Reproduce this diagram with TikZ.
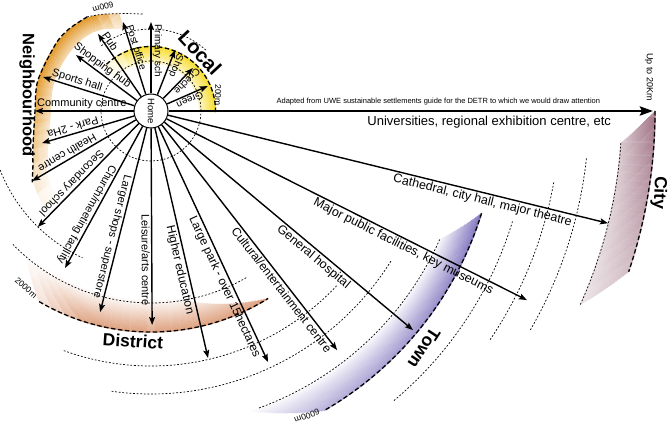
\documentclass[tikz,border=0pt]{standalone}
\usepackage{fontspec}
\setmainfont{Liberation Sans}
\usetikzlibrary{arrows.meta,calc}
\definecolor{locc}{RGB}{247,220,40}
\definecolor{nbc}{RGB}{226,152,40}
\definecolor{dsc}{RGB}{222,160,126}
\definecolor{twc}{RGB}{128,116,190}
\definecolor{ctc}{RGB}{160,115,132}
% concentric band around (H): #1 r_out, #2 strips, #3/#4 start angle outer/inner, #5/#6 end angle outer/inner, #7 colour, #8 segments, #9 colour strength expr (\bT radial 0..1, \bU along 0..1)
\newcommand\cband[9]{%
  \foreach \kk in {0,...,#2}{%
    \pgfmathsetmacro\bT{\kk/#2}%
    \pgfmathsetmacro\bR{#1-\kk}%
    \pgfmathsetmacro\bAs{(#3)+\bT*((#4)-(#3))}%
    \pgfmathsetmacro\bAe{(#5)+\bT*((#6)-(#5))}%
    \foreach \jj in {1,...,#8}{%
      \pgfmathsetmacro\bU{(\jj-0.5)/#8}%
      \pgfmathsetmacro\bA{\bAs+(\jj-1)*(\bAe-\bAs)/#8}%
      \pgfmathsetmacro\bB{\bAs+\jj*(\bAe-\bAs)/#8}%
      \pgfmathtruncatemacro\bC{max(0,min(100,#9))}%
      \draw[#7!\bC!white,line width=1.4pt] ($(H)+(\bA:\bR)$) arc[start angle=\bA,end angle=\bB,radius=\bR];
    }
  }
}
\begin{document}
\begin{tikzpicture}[x=1pt,y=1pt,
  lab/.style={font=\fontsize{11}{13}\selectfont, inner sep=1.3pt},
  loclab/.style={font=\fontsize{10}{12}\selectfont, inner sep=1.2pt},
  mlab/.style={font=\fontsize{12}{14}\selectfont, inner sep=1.5pt},
  blab/.style={font=\fontsize{12.5}{15}\selectfont, inner sep=1.5pt},
  spoke/.style={line width=1.4pt, -{Stealth[length=8pt,width=6pt,inset=1.5pt]}},
  bigspoke/.style={line width=2.8pt, -{Stealth[length=13pt,width=9pt,inset=2pt]}},
  ring/.style={line width=0.7pt, dash pattern=on 1.8pt off 1.8pt},
  edgeline/.style={line width=1.3pt, dash pattern=on 4.5pt off 2.5pt},
  biglab/.style={font=\bfseries\fontsize{17.5}{20}\selectfont, inner sep=0pt},
  dist/.style={font=\fontsize{8.5}{10}\selectfont, inner sep=0pt}]
\useasboundingbox (0,0) rectangle (672,426);
\coordinate (H) at (151,315);

% ---------- coloured bands ----------
\cband{64.5}{16}{-1}{-1}{136}{136}{locc}{14}{100*(1-0.75*\bT)*min(1,(1-\bU)/0.22)}
\cband{221}{31}{239.6}{229}{302}{278}{dsc}{16}{100*(1-0.95*\bT)*min(1,0.2+\bU/0.3)}
\cband{346}{30}{-17.2}{-24}{-60}{-71.7}{twc}{14}{100*(1-0.95*\bT)*(1-0.45*\bU)}
\cband{504}{33}{0}{-3.9}{-18.6}{-24.3}{ctc}{10}{100*(1-0.6*\bT)*(1-0.55*\bU)}
\foreach \aa/\ab/\ra/\rb/\ff in {108/114/102.7/106.5/0.45, 114/120/106.5/111/0.8,
   120/126/111/114/1, 126/132/114/115.5/1, 132/138/115.5/116.2/1,
   138/144/116.2/116.5/1, 144/150/116.5/116.7/1, 150/156/116.7/117/1,
   156/162/117/117.2/1, 162/168/117.2/117.1/0.97, 168/174/117.1/116.5/0.92,
   174/180/116.5/116.2/0.85, 180/186/116.2/117.8/0.75, 186/192/117.8/120.8/0.65,
   192/198/120.8/124.3/0.55, 198/204/124.3/129.5/0.45, 204/210/129.5/137/0.35,
   210/216/137/141/0.22, 216/222/141/143/0.1}{
  \foreach \kk in {0,...,15}{
    \pgfmathtruncatemacro\bC{\ff*100*(1-0.04*\kk)}
    \fill[nbc!\bC!white] ($(H)+(\aa:\ra-\kk)$) -- ($(H)+(\ab+0.4:\rb-\kk)$)
       -- ($(H)+(\ab+0.4:\rb-\kk-1.3)$) -- ($(H)+(\aa:\ra-\kk-1.3)$) -- cycle;
  }
}

% ---------- distance rings ----------
\begin{scope}[shift={(H)}]
  \draw[ring] (0,0) circle[radius=50];
  \draw[ring] (48:82) arc[start angle=48,end angle=128,radius=82];
  \draw[ring] (195:162) arc[start angle=195,end angle=245,radius=162];
  \draw[ring] (224:192) arc[start angle=224,end angle=300,radius=192];
  \draw[ring] (250:255) arc[start angle=250,end angle=317,radius=255];
  \draw[ring] (262:283) arc[start angle=262,end angle=328,radius=283];
  \draw[ring] (290:316) arc[start angle=290,end angle=336,radius=316];
  \draw[ring] (310:378) arc[start angle=310,end angle=343,radius=378];
  \draw[ring] (326:409) arc[start angle=326,end angle=350,radius=409];
  \draw[ring] (330:438) arc[start angle=330,end angle=354,radius=438];
  \draw[ring] (-3.9:471) arc[start angle=-3.9,end angle=-24.3,radius=471];
  \draw[ring] plot[smooth] coordinates {(95:97.3) (103:100) (110:103.5) (117:108.5) (124:113.7)};
  \draw[edgeline] plot[smooth] coordinates {(124:113.7) (135:116) (145:116.5) (165:117.2) (180:116) (190:119) (198:124.3) (205:130.3) (211:138.6)};
  \draw[edgeline] (-1:64.5) arc[start angle=-1,end angle=134,radius=64.5];
  \draw[edgeline] (239.6:221) arc[start angle=239.6,end angle=302,radius=221];
  \draw[edgeline] (-17.2:346) arc[start angle=-17.2,end angle=-60,radius=346];
  \draw[edgeline] (0:504) arc[start angle=0,end angle=-18.6,radius=504];
\end{scope}

% ---------- home ----------
\node[circle, draw, line width=1pt, fill=white, minimum size=34pt, inner sep=0pt,
      rotate=-90, font=\fontsize{9.5}{11}\selectfont] (home) at (H) {Home};

% ---------- spoke end points ----------
\coordinate (tGreen) at ($(H)+(23.7:62)$);
\coordinate (tCreche) at ($(H)+(45.7:60)$);
\coordinate (tShop) at ($(H)+(68.5:65.6)$);
\coordinate (tPrim) at ($(H)+(90:89)$);
\coordinate (tPost) at ($(H)+(107.5:93.3)$);
\coordinate (tPub) at ($(H)+(124.5:93.5)$);
\coordinate (tHub) at ($(H)+(143.3:93.6)$);
\coordinate (tSport) at ($(H)+(162.5:113.2)$);
\coordinate (tComm) at ($(H)+(180:116)$);
\coordinate (tPark) at ($(H)+(196.4:113.6)$);
\coordinate (tHealth) at ($(H)+(210.5:138)$);
\coordinate (tSec) at ($(H)+(225.7:162)$);
\coordinate (tChurch) at ($(H)+(241.3:179)$);
\coordinate (tShops) at ($(H)+(255.8:207.4)$);
\coordinate (tLeis) at ($(H)+(270.3:214)$);
\coordinate (tHigh) at ($(H)+(283:253.5)$);
\coordinate (tLpark) at ($(H)+(295:277)$);
\coordinate (tCult) at ($(H)+(307.9:303)$);
\coordinate (tHosp) at ($(H)+(320.1:341.5)$);
\coordinate (tMus) at ($(H)+(333.3:420.8)$);
\coordinate (tCath) at ($(H)+(346.2:470.6)$);
\coordinate (tUni) at ($(H)+(0:502)$);

% ---------- spokes and labels ----------
\draw[spoke] (home) -- (tGreen) node[loclab, pos=.51, rotate=203.7, anchor=south] {Green};
\draw[spoke] (home) -- (tCreche) node[loclab, pos=.68, rotate=225.7, anchor=south] {Creche};
\draw[spoke] (home) -- (tShop) node[loclab, pos=.70, rotate=248.5, anchor=south] {Shop};
\draw[spoke] (home) -- (tPrim) node[loclab, pos=.6, rotate=270, anchor=south] {Primary sch};
\draw[spoke] (home) -- (tPost) node[loclab, pos=.625, rotate=-72.5, anchor=south] {Post office};
\draw[spoke] (home) -- (tPub) node[lab, pos=.83, rotate=-55.5, anchor=south] {Pub};
\draw[spoke] (home) -- (tHub) node[lab, pos=.64, rotate=-36.7, anchor=south] {Shopping hub};
\draw[spoke] (home) -- (tSport) node[lab, pos=.65, rotate=-17.5, anchor=south] {Sports hall};
\draw[spoke] (home) -- (tComm) node[lab, pos=.525, anchor=south] {Community centre};
\draw[spoke] (home) -- (tPark) node[lab, pos=.645, rotate=196.4, anchor=north] {Park - 2Ha};
\draw[spoke] (home) -- (tHealth) node[lab, pos=.63, rotate=210.5, anchor=north] {Health centre};
\draw[spoke] (home) -- (tSec) node[lab, pos=.62, rotate=225.7, anchor=north] {Secondary school};
\draw[spoke] (home) -- (tChurch) node[lab, pos=.645, rotate=241.3, anchor=north] {Church/meeting facility};
\draw[spoke] (home) -- (tShops) node[lab, pos=.6, rotate=255.8, anchor=north] {Larger shops - superstore};
\draw[spoke] (home) -- (tLeis) node[lab, pos=.67, rotate=270.3, anchor=north] {Leisure/arts centre};
\draw[spoke] (home) -- (tHigh) node[mlab, pos=.61, rotate=283, anchor=north] {Higher education};
\draw[spoke] (home) -- (tLpark) node[mlab, pos=.667, rotate=295, anchor=north] {Large park - over 15hectares};
\draw[spoke] (home) -- (tCult) node[mlab, pos=.714, rotate=307.9, anchor=north] {Cultural/entertainment centre};
\draw[spoke] (home) -- (tHosp) node[blab, pos=.62, rotate=320.1, anchor=north] {General hospital};
\draw[spoke] (home) -- (tMus) node[blab, pos=.667, rotate=333.3, anchor=north] {Major public facilities, key museums};
\draw[spoke] (home) -- (tCath) node[blab, pos=.719, rotate=346.2, anchor=north] {Cathedral, city hall, major theatre};
\draw[bigspoke] (home) -- (tUni)
  node[pos=.662, anchor=north, font=\fontsize{13}{15}\selectfont, inner sep=2.5pt, yshift=-1pt] {Universities, regional exhibition centre, etc}
  node[pos=.557, anchor=south, font=\fontsize{7.5}{9}\selectfont, inner sep=1pt, yshift=4pt] {Adapted from UWE sustainable settlements guide for the DETR to which we would draw attention};

% ---------- zone names and distances ----------
\node[biglab, font=\bfseries\fontsize{20}{22}\selectfont, rotate=-47] (local) at (200,373) {Local};
\node[biglab, font=\bfseries\fontsize{16.5}{19}\selectfont, rotate=-90] (nbh) at (27,331) {Neighbourhood};
\node[biglab, rotate=-4] (district) at (133,85) {District};
\node[biglab, rotate=237] (town) at (424,78) {Town};
\node[biglab, rotate=-92] (city) at (659,233) {City};
\node[dist, rotate=-90] (d200) at (218,331) {200m};
\node[dist, rotate=197] (d600) at (103,419) {600m};
\node[dist, rotate=-41] (d2000) at (26,138) {2000m};
\node[dist, rotate=200] (d6000) at (307,10) {6000m};
\node[dist, font=\fontsize{9}{11}\selectfont, rotate=-90] (d20k) at (649,349) {Up to 20Km};
\end{tikzpicture}
\end{document}
